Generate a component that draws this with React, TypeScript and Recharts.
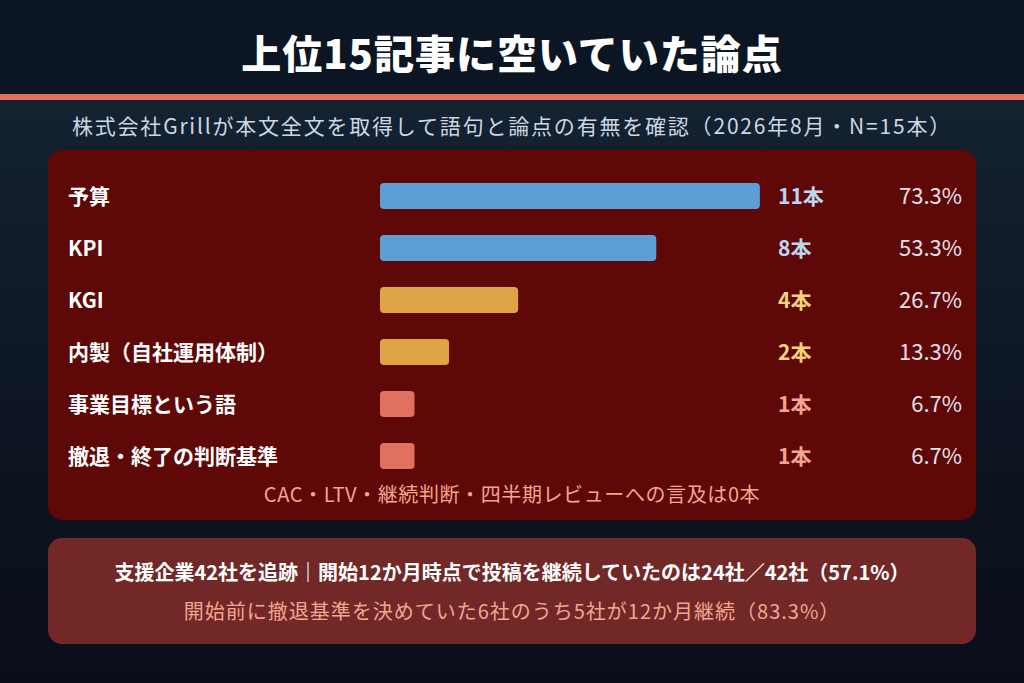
import { BarChart, Bar, XAxis, YAxis, Cell, LabelList } from 'recharts'

const categories = ['予算', 'KPI', 'KGI', '内製（自社運用体制）', '事業目標という語', '撤退・終了の判断基準']
const counts = [11, 8, 4, 2, 1, 1]
const percents = ['73.3%', '53.3%', '26.7%', '13.3%', '6.7%', '6.7%']
const TOTAL = 15

const BAR_COLORS = ['#5b9fd6', '#5b9fd6', '#dea445', '#dea445', '#e07060', '#e07060']
const COUNT_COLORS = ['#bcd6f2', '#bcd6f2', '#f7d27e', '#f7d27e', '#f3a593', '#f3a593']

const JP = "'Noto Sans CJK JP', 'Noto Sans', sans-serif"

const data = categories.map((name, i) => ({ name, count: counts[i], pct: percents[i] }))

const CountLabel = (props: any) => {
    const { y, height, index, value } = props
    return (
        <text x={730} y={y + height / 2} dy={8} fill={COUNT_COLORS[index]} fontSize={21} fontWeight={700} fontFamily={JP}>
            {value}本
        </text>
    )
}

const PctLabel = (props: any) => {
    const { y, height, value } = props
    return (
        <text x={914} y={y + height / 2} dy={8} textAnchor="end" fill="#e4e0ea" fontSize={22} fontFamily={JP}>
            {value}
        </text>
    )
}

const CategoryTick = (props: any) => {
    const { y, payload } = props
    return (
        <text x={20} y={y} dy={8} fill="#ffffff" fontSize={21} fontWeight={700} fontFamily={JP}>
            {payload.value}
        </text>
    )
}

export default function App() {
    return (
        <div style={{ position: 'relative', width: 1024, height: 683, overflow: 'hidden', fontFamily: JP, background: 'linear-gradient(180deg, #0b1524 0px, #0b1524 94px, #142232 100px, #0d1522 420px, #0a0e18 683px)' }}>
            <style>{'body{margin:0}'}</style>
            <div style={{ position: 'absolute', top: 26, left: 0, width: 1024, textAlign: 'center', color: '#fff', fontSize: 40, fontWeight: 900, lineHeight: '52px', letterSpacing: 1 }}>
                上位15記事に空いていた論点
            </div>
            <div style={{ position: 'absolute', top: 94, left: 0, width: 1024, height: 6, background: '#e07060' }} />
            <div style={{ position: 'absolute', top: 110, left: 0, width: 1024, textAlign: 'center', color: '#cdd7e3', fontSize: 21, lineHeight: '30px', letterSpacing: 1.8 }}>
                株式会社Grillが本文全文を取得して語句と論点の有無を確認（2026年8月・N=15本）
            </div>
            <div style={{ position: 'absolute', top: 150, left: 48, width: 928, height: 370, background: '#5e0808', borderRadius: 14 }}>
                <BarChart width={928} height={370} data={data} layout="vertical" margin={{ top: 20, right: 78, bottom: 38, left: 0 }}>
                    <XAxis type="number" domain={[0, TOTAL]} hide />
                    <YAxis type="category" dataKey="name" width={332} axisLine={false} tickLine={false} tick={<CategoryTick />} />
                    <Bar dataKey="count" barSize={26} radius={4} isAnimationActive={false}>
                        {data.map((d, i) => (
                            <Cell key={d.name} fill={BAR_COLORS[i]} />
                        ))}
                        <LabelList dataKey="count" content={<CountLabel />} />
                        <LabelList dataKey="pct" content={<PctLabel />} />
                    </Bar>
                </BarChart>
                <div style={{ position: 'absolute', top: 330, left: 0, width: 928, textAlign: 'center', color: '#f3a593', fontSize: 20, lineHeight: '28px', letterSpacing: 0.6 }}>
                    CAC・LTV・継続判断・四半期レビューへの言及は0本
                </div>
            </div>
            <div style={{ position: 'absolute', top: 538, left: 48, width: 928, height: 106, background: '#722826', borderRadius: 14 }}>
                <div style={{ position: 'absolute', top: 20, left: 0, width: 928, textAlign: 'center', color: '#fff', fontSize: 20, fontWeight: 700, lineHeight: '28px' }}>
                    支援企業42社を追跡｜開始12か月時点で投稿を継続していたのは24社／42社（57.1%）
                </div>
                <div style={{ position: 'absolute', top: 59, left: 0, width: 928, textAlign: 'center', color: '#f3a593', fontSize: 20, lineHeight: '28px', letterSpacing: 1 }}>
                    開始前に撤退基準を決めていた6社のうち5社が12か月継続（83.3%）
                </div>
            </div>
        </div>
    )
}
